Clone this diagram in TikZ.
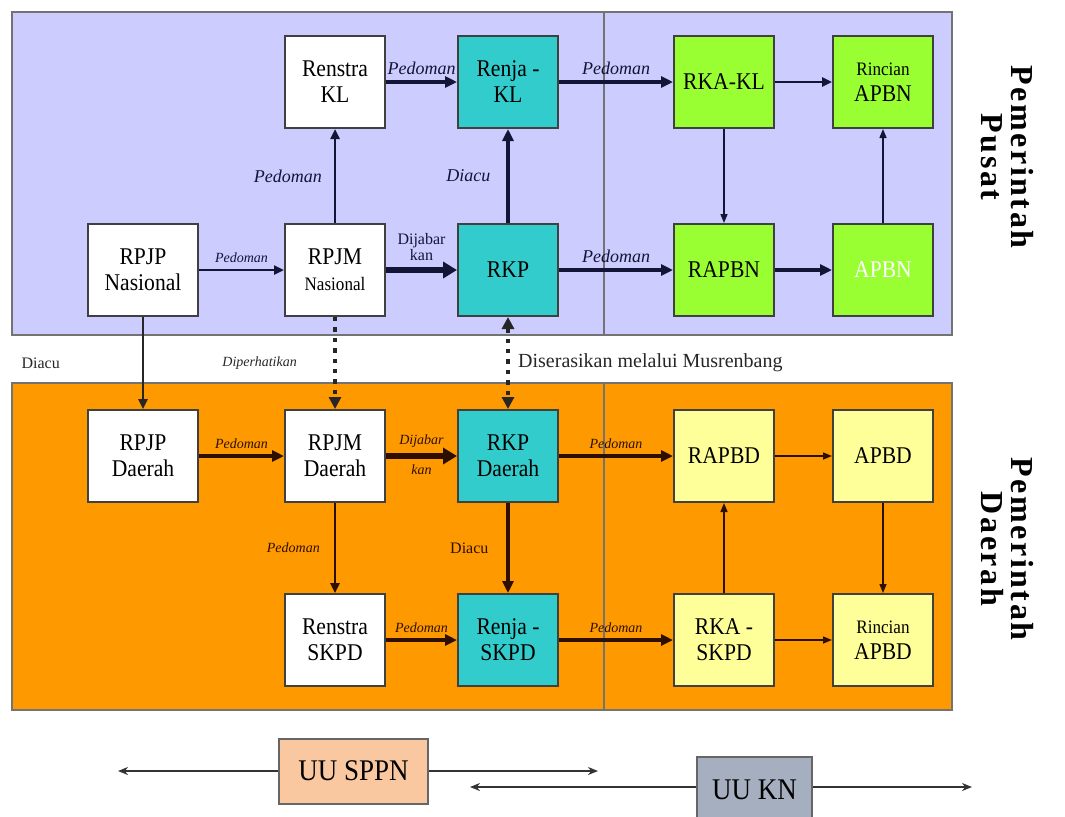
\documentclass[tikz,border=0pt]{standalone}
\usepackage{fontspec}
\setmainfont{Liberation Serif}
\usetikzlibrary{arrows.meta}
\definecolor{lavender}{RGB}{204,204,255}
\definecolor{orangebg}{RGB}{255,153,0}
\definecolor{tealbox}{RGB}{51,204,204}
\definecolor{greenbox}{RGB}{153,255,51}
\definecolor{yellowbox}{RGB}{255,255,153}
\definecolor{peach}{RGB}{250,200,160}
\definecolor{slate}{RGB}{165,175,192}
\definecolor{navy}{RGB}{20,20,55}
\definecolor{darkbrown}{RGB}{45,15,0}
\begin{document}
\begin{tikzpicture}[x=0.5pt,y=-0.5pt]
      \tikzstyle{every node}+=[inner sep=3pt]
      \tikzstyle{box}=[draw=black!75, fill=white, line width=1pt, minimum width=50pt, minimum height=46pt, align=center, inner sep=1pt, font=\fontsize{12}{13}\selectfont\addfontfeature{FakeStretch=0.9}]
      \tikzstyle{wide}=[minimum width=55pt]
      \tikzstyle{lab}=[font=\itshape\fontsize{9}{9}\selectfont]
      \tikzstyle{smalllab}=[font=\itshape\fontsize{7}{7}\selectfont]
      \tikzstyle{uplab}=[font=\fontsize{8}{8}\selectfont]
      \tikzstyle{fatline}=[line width=3pt, -{Triangle[length=7pt,width=8pt]}]
      \tikzstyle{bigline}=[line width=1.6pt, -{Triangle[length=6pt,width=5.5pt]}]
      \tikzstyle{midline}=[line width=1.2pt, -{Triangle[length=5pt,width=4.5pt]}]
      \tikzstyle{fineline}=[line width=0.7pt, -{Triangle[length=4.5pt,width=3.5pt]}]
      \tikzstyle{dotline}=[line width=2.2pt, dash pattern=on 2.2pt off 3pt]
      \tikzstyle{legline}=[line width=1.3pt, black!80, -{Stealth[length=5pt,width=4pt]}]
      \useasboundingbox (0,0) rectangle (1065,816);
      \draw [fill=lavender, draw=black!55, line width=1pt] (12,12) rectangle (952,335);
      \draw [black!55, line width=1pt] (604,12) -- (604,335);
      \draw [fill=orangebg, draw=black!55, line width=1pt] (12,383) rectangle (952,710);
      \draw [black!55, line width=1pt] (604,383) -- (604,710);
      \node [box] (renstrakl) at (335,82) {Renstra\\KL};
      \node [box, fill=tealbox] (renjakl) at (508,82) {Renja -\\KL};
      \node [box, fill=greenbox] (rkakl) at (724,82) {RKA-KL};
      \node [box, fill=greenbox] (rincianapbn) at (883,82) {{\fontsize{9.5}{10.5}\selectfont Rincian}\\APBN};
      \node [box, wide] (rpjpnas) at (143,270) {RPJP\\Nasional};
      \node [box] (rpjmnas) at (335,270) {RPJM\\{\fontsize{9.5}{10.5}\selectfont Nasional}};
      \node [box, fill=tealbox] (rkp) at (508,270) {RKP};
      \node [box, fill=greenbox] (rapbn) at (724,270) {RAPBN};
      \node [box, fill=greenbox, text=white] (apbn) at (883,270) {APBN};
      \node [box, wide] (rpjpdaerah) at (143,456) {RPJP\\Daerah};
      \node [box] (rpjmdaerah) at (335,456) {RPJM\\Daerah};
      \node [box, fill=tealbox] (rkpdaerah) at (508,456) {RKP\\Daerah};
      \node [box, fill=yellowbox] (rapbd) at (724,456) {RAPBD};
      \node [box, fill=yellowbox] (apbd) at (883,456) {APBD};
      \node [box] (renstraskpd) at (335,640) {Renstra\\SKPD};
      \node [box, fill=tealbox] (renjaskpd) at (508,640) {Renja -\\SKPD};
      \node [box, fill=yellowbox] (rkaskpd) at (724,640) {RKA -\\SKPD};
      \node [box, fill=yellowbox] (rincianapbd) at (883,640) {{\fontsize{9.5}{10.5}\selectfont Rincian}\\APBD};
      \begin{scope}[navy]
      \draw [bigline] (renstrakl) -- (renjakl) node [lab, midway, above] {Pedoman};
      \draw [bigline] (renjakl) -- (rkakl) node [lab, midway, above] {Pedoman};
      \draw [midline] (rkakl) -- (rincianapbn);
      \draw [midline] (rpjmnas) -- (renstrakl) node [lab, midway, left, xshift=-3pt] {Pedoman};
      \draw [bigline] (rkp) -- (renjakl) node [lab, midway, left, xshift=-5pt] {Diacu};
      \draw [midline] (rpjpnas) -- (rpjmnas) node [smalllab, midway, above] {Pedoman};
      \draw [fatline] (rpjmnas) -- (rkp) node [uplab, midway, above, align=center] {Dijabar\\kan};
      \draw [bigline] (rkp) -- (rapbn) node [lab, midway, above] {Pedoman};
      \draw [bigline] (rapbn) -- (apbn);
      \draw [fineline] (rkakl) -- (rapbn);
      \draw [fineline] (apbn) -- (rincianapbn);
      \end{scope}
      \begin{scope}[black!85]
      \draw [midline] (rpjpnas) -- (rpjpdaerah) node [uplab, midway, left=38pt] {Diacu};
      \draw [dotline, -{Triangle[length=6pt,width=6pt]}] (rpjmnas) -- (rpjmdaerah) node [smalllab, midway, left=15pt] {Diperhatikan};
      \draw [dotline, {Triangle[length=6pt,width=6pt]}-{Triangle[length=6pt,width=6pt]}] (rkp) -- (rkpdaerah) node [midway, right=1pt, font=\fontsize{10}{10}\selectfont] {Diserasikan melalui Musrenbang};
      \end{scope}
      \begin{scope}[darkbrown]
      \draw [bigline] (rpjpdaerah) -- (rpjmdaerah) node [smalllab, midway, above] {Pedoman};
      \draw [fatline] (rpjmdaerah) -- (rkpdaerah) node [smalllab, midway, above=0pt] {Dijabar} node [smalllab, midway, below=0pt] {kan};
      \draw [bigline] (rkpdaerah) -- (rapbd) node [smalllab, midway, above] {Pedoman};
      \draw [fineline] (rapbd) -- (apbd);
      \draw [fineline] (apbd) -- (rincianapbd);
      \draw [midline] (rpjmdaerah) -- (renstraskpd) node [smalllab, midway, left, xshift=-4pt] {Pedoman};
      \draw [bigline] (rkpdaerah) -- (renjaskpd) node [uplab, midway, left, xshift=-6pt] {Diacu};
      \draw [bigline] (renstraskpd) -- (renjaskpd) node [smalllab, midway, above] {Pedoman};
      \draw [bigline] (renjaskpd) -- (rkaskpd) node [smalllab, midway, above] {Pedoman};
      \draw [fineline] (rkaskpd) -- (rapbd);
      \draw [fineline] (rkaskpd) -- (rincianapbd);
      \end{scope}
      \node [rotate=-90, align=center, font=\bfseries\fontsize{16}{15}\selectfont\addfontfeature{LetterSpace=8}] (pusat) at (1007,157) {Pemerintah\\Pusat};
      \node [rotate=-90, align=center, font=\bfseries\fontsize{16}{15}\selectfont\addfontfeature{LetterSpace=8}] (daerah) at (1007,549) {Pemerintah\\Daerah};
      \coordinate (sppnleft) at (118,771);
      \coordinate (sppnright) at (598,771);
      \coordinate (knleft) at (470,787);
      \coordinate (knright) at (972,787);
      \draw [legline] (353.5,771) -- (sppnleft);
      \draw [legline] (353.5,771) -- (sppnright);
      \draw [legline] (754.5,787) -- (knleft);
      \draw [legline] (754.5,787) -- (knright);
      \node [draw=black!60, line width=1pt, fill=peach, minimum width=74.5pt, minimum height=32.5pt, inner sep=1pt, font=\fontsize{15}{15}\selectfont\addfontfeature{FakeStretch=0.9}] (sppn) at (353.5,771) {UU SPPN};
      \node [draw=black!60, line width=1pt, fill=slate, minimum width=57.5pt, minimum height=33pt, inner sep=1pt, font=\fontsize{15}{15}\selectfont\addfontfeature{FakeStretch=0.9}] (kn) at (754.5,790) {UU KN};
\end{tikzpicture}
\end{document}
